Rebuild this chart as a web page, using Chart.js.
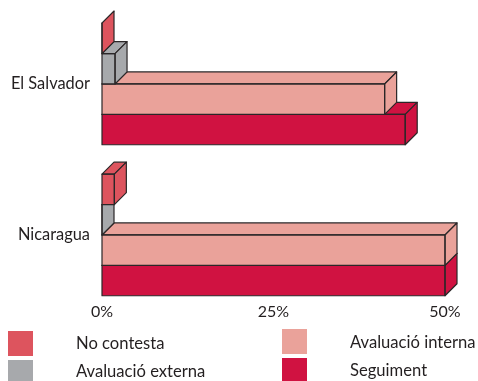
<!DOCTYPE html>
<html>
<head>
<meta charset="utf-8">
<script src="https://cdn.jsdelivr.net/npm/chart.js"></script>
<style>
html, body { margin: 0; padding: 0; background: #fff; }
#wrap { position: relative; width: 478px; height: 381px; overflow: hidden; font-family: Lato, "Open Sans", sans-serif; }
#grafic { position: absolute; left: 0; top: 0; }
.quadre { position: absolute; width: 25px; height: 25px; }
.etiqueta { position: absolute; font-size: 16.6px; line-height: 20px; color: #231f20; white-space: nowrap; }
</style>
</head>
<body>
<div id="wrap">
  <canvas id="grafic" width="478" height="381"></canvas>
  <div id="llegenda"></div>
</div>
<script>
// Dades del gràfic
const categories = ['El Salvador', 'Nicaragua'];
const seriesNoms = ['No contesta', 'Avaluació externa', 'Avaluació interna', 'Seguiment'];
const noContesta = [0, 1.8];
const avaluacioExterna = [1.9, 0];
const avaluacioInterna = [41.2, 50];
const seguiment = [44.2, 50];
const ticksX = [0, 25, 50];

const colors = ['#dd545e', '#a7a9ac', '#eaa29a', '#d01241'];
const vora = '#2b2728';
const fonsX = 12; // profunditat 3D
const fonsY = 12;

// Cares superior i lateral de cada barra (efecte 3D)
const barres3d = {
    id: 'barres3d',
    afterDatasetDraw(chart, args) {
        const ctx = chart.ctx;
        const color = chart.data.datasets[args.index].backgroundColor;
        args.meta.data.forEach(bar => {
            const p = bar.getProps(['x', 'y', 'base', 'height'], true);
            const dalt = p.y - p.height / 2;
            const baix = p.y + p.height / 2;
            const esq = p.base;
            const dre = p.x;

            function cara(punts) {
                ctx.beginPath();
                ctx.moveTo(punts[0][0], punts[0][1]);
                for (let i = 1; i < punts.length; i++) ctx.lineTo(punts[i][0], punts[i][1]);
                ctx.closePath();
                ctx.fillStyle = color;
                ctx.fill();
                ctx.lineWidth = 1.2;
                ctx.strokeStyle = vora;
                ctx.lineJoin = 'round';
                ctx.stroke();
            }

            ctx.save();
            // cara de dalt
            cara([[esq, dalt], [esq + fonsX, dalt - fonsY], [dre + fonsX, dalt - fonsY], [dre, dalt]]);
            // cara lateral
            cara([[dre, dalt], [dre + fonsX, dalt - fonsY], [dre + fonsX, baix - fonsY], [dre, baix]]);
            // vora frontal
            ctx.lineWidth = 1.2;
            ctx.strokeStyle = vora;
            ctx.strokeRect(esq, dalt, dre - esq, baix - dalt);
            ctx.restore();
        });
    }
};

const valors = [noContesta, avaluacioExterna, avaluacioInterna, seguiment];

const ctx = document.getElementById('grafic').getContext('2d');
new Chart(ctx, {
    type: 'bar',
    data: {
        datasets: seriesNoms.map((nom, i) => ({
            label: nom,
            data: valors[i].map((v, j) => ({ x: v, y: j })),
            backgroundColor: colors[i],
            borderWidth: 0,
            categoryPercentage: 0.805,
            barPercentage: 1.0
        }))
    },
    options: {
        indexAxis: 'y',
        responsive: false,
        animation: false,
        layout: { padding: { top: 8, right: 33, bottom: 59, left: 0 } },
        plugins: {
            legend: { display: false },
            tooltip: { enabled: false }
        },
        scales: {
            x: {
                min: 0,
                max: 50,
                afterBuildTicks: scale => { scale.ticks = ticksX.map(v => ({ value: v })); },
                afterFit: scale => { scale.height = 20; },
                grid: { display: false, drawTicks: false },
                border: { display: false },
                ticks: {
                    padding: 0,
                    color: '#231f20',
                    font: { family: 'Lato', size: 16 },
                    callback: v => v + '%'
                }
            },
            y: {
                type: 'linear',
                reverse: true,
                offset: false,
                min: -0.503,
                max: 1.444,
                afterBuildTicks: scale => { scale.ticks = categories.map((c, j) => ({ value: j })); },
                afterFit: scale => {
                    scale.width = 102;
                    scale.paddingTop = 0;
                    scale.paddingBottom = 0;
                },
                grid: { display: false, drawTicks: false },
                border: { display: false },
                ticks: {
                    padding: 12,
                    color: '#231f20',
                    font: { family: 'Lato', size: 16.4 },
                    callback: v => categories[v]
                }
            }
        }
    },
    plugins: [barres3d]
});

// Llegenda
const llocs = [
    { qx: 8, qy: 331, tx: 76, ty: 333 },
    { qx: 8, qy: 360, tx: 76, ty: 361 },
    { qx: 282, qy: 329, tx: 350, ty: 332 },
    { qx: 282, qy: 358, tx: 350, ty: 360 }
];
const llegenda = document.getElementById('llegenda');
seriesNoms.forEach((nom, i) => {
    const q = document.createElement('div');
    q.className = 'quadre';
    q.style.left = llocs[i].qx + 'px';
    q.style.top = llocs[i].qy + 'px';
    q.style.background = colors[i];
    llegenda.appendChild(q);

    const t = document.createElement('div');
    t.className = 'etiqueta';
    t.style.left = llocs[i].tx + 'px';
    t.style.top = llocs[i].ty + 'px';
    t.textContent = nom;
    llegenda.appendChild(t);
});
</script>
</body>
</html>
